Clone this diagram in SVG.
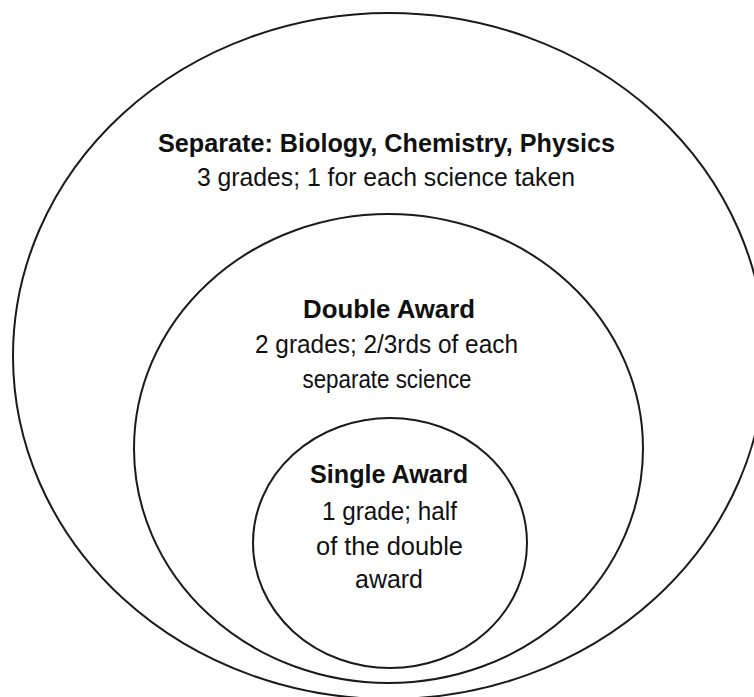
<svg xmlns="http://www.w3.org/2000/svg" width="754" height="697" viewBox="0 0 754 697">
<style>
.ring{fill:#ffffff;stroke:#1a1a1a;stroke-width:2}
.t{font-family:"Liberation Sans",Arial,sans-serif;font-size:25px;fill:#111111;text-anchor:middle}
.b{font-weight:bold}
</style>
<rect width="754" height="697" fill="#ffffff"/>
<g id="separate">
<ellipse class="ring" cx="389" cy="356" rx="376" ry="343"/>
<text class="t b" x="386.5" y="152" textLength="457" lengthAdjust="spacingAndGlyphs">Separate: Biology, Chemistry, Physics</text>
<text class="t" x="386" y="186" textLength="378" lengthAdjust="spacingAndGlyphs">3 grades; 1 for each science taken</text>
</g>
<g id="double">
<ellipse class="ring" cx="388.5" cy="448.5" rx="254.5" ry="234.5"/>
<text class="t b" x="389" y="318" textLength="172" lengthAdjust="spacingAndGlyphs">Double Award</text>
<text class="t" x="386.5" y="353" textLength="263" lengthAdjust="spacingAndGlyphs">2 grades; 2/3rds of each</text>
<text class="t" x="387" y="388" textLength="169" lengthAdjust="spacingAndGlyphs">separate science</text>
</g>
<g id="single">
<ellipse class="ring" cx="390" cy="543" rx="137" ry="125"/>
<text class="t b" x="389" y="483" textLength="158" lengthAdjust="spacingAndGlyphs">Single Award</text>
<text class="t" x="389.5" y="520" textLength="135" lengthAdjust="spacingAndGlyphs">1 grade; half</text>
<text class="t" x="389.5" y="555" textLength="147" lengthAdjust="spacingAndGlyphs">of the double</text>
<text class="t" x="389" y="588" textLength="68" lengthAdjust="spacingAndGlyphs">award</text>
</g>
<g id="connectors"></g>
</svg>
